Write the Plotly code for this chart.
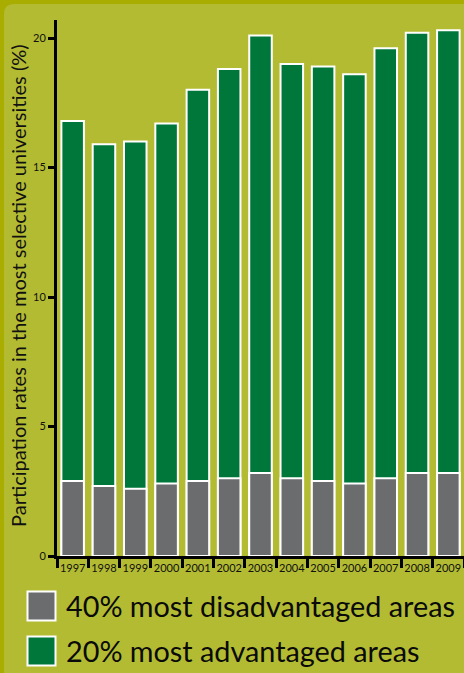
import plotly.graph_objects as go

# ---- data ----
years = ["1997", "1998", "1999", "2000", "2001", "2002", "2003",
         "2004", "2005", "2006", "2007", "2008", "2009"]
advantaged = [16.8, 15.9, 16.0, 16.7, 18.0, 18.8, 20.1,
              19.0, 18.9, 18.6, 19.6, 20.2, 20.3]
disadvantaged = [2.9, 2.7, 2.6, 2.8, 2.9, 3.0, 3.2,
                 3.0, 2.9, 2.8, 3.0, 3.2, 3.2]
series_names = ["40% most disadvantaged areas", "20% most advantaged areas"]
y_title = "Participation rates in the most selective universities (%)"
y_ticks = [0, 5, 10, 15, 20]

# ---- style ----
GREEN = "#00773a"
GREY = "#6a6c6e"
PANEL = "#b3bb33"
OUTER = "#a8ad00"
FONT = "Lato"

W, H = 464, 673
ML, MR, MT, MB = 57, 0, 20, 117
PW, PH = W - ML - MR, H - MT - MB


def px(x):
    return (x - ML) / PW


def py(y):
    return (H - MB - y) / PH


fig = go.Figure()
fig.add_bar(x=years, y=advantaged, name=series_names[1], width=0.72,
            marker=dict(color=GREEN, line=dict(color="white", width=2)))
fig.add_bar(x=years, y=disadvantaged, name=series_names[0], width=0.72,
            marker=dict(color=GREY, line=dict(color="white", width=2)))

shapes = []
# inner panel with rounded top-left corner
r = 10
x0, y0, x1, y1 = 4, 4, W + 10, H + 10
path = (f"M {px(x0)},{py(y0 + r)} Q {px(x0)},{py(y0)} {px(x0 + r)},{py(y0)} "
        f"L {px(x1)},{py(y0)} L {px(x1)},{py(y1)} L {px(x0)},{py(y1)} Z")
shapes.append(dict(type="path", path=path, xref="paper", yref="paper",
                   fillcolor=PANEL, line=dict(width=0), layer="below"))

annotations = []
legend_rows = [(series_names[0], GREY, 591.5, 620.5),
               (series_names[1], GREEN, 636.5, 665.5)]
for name, col, top, bot in legend_rows:
    shapes.append(dict(type="rect", xref="paper", yref="paper",
                       x0=px(27.5), x1=px(55.5), y0=py(bot), y1=py(top),
                       fillcolor=col, line=dict(color="white", width=2)))
    annotations.append(dict(text=name, xref="paper", yref="paper",
                            x=px(64), y=py((top + bot) / 2),
                            xanchor="left", yanchor="middle", showarrow=False,
                            font=dict(family=FONT, size=28.8, color="#0a0a0a")))

annotations.append(dict(text=y_title, xref="paper", yref="paper",
                        x=px(18), y=py(286), textangle=-90,
                        xanchor="center", yanchor="middle", showarrow=False,
                        font=dict(family=FONT, size=20, color="#111111")))

fig.update_layout(
    width=W, height=H,
    margin=dict(l=ML, r=MR, t=MT, b=MB),
    paper_bgcolor=OUTER, plot_bgcolor="rgba(0,0,0,0)",
    barmode="overlay", showlegend=False,
    shapes=shapes, annotations=annotations,
    font=dict(family=FONT, color="#111111"),
    xaxis=dict(type="category", range=[-0.5, 12.5], showgrid=False,
               zeroline=False, showline=True, linecolor="black", linewidth=3,
               ticks="outside", tickson="boundaries", ticklen=9,
               tickwidth=2.5, tickcolor="black", tickangle=0,
               tickfont=dict(family=FONT, size=11, color="#111111")),
    yaxis=dict(range=[0, PH / 25.9], tickvals=y_ticks, showgrid=False,
               zeroline=False, showline=True, linecolor="black", linewidth=3,
               ticks="outside", ticklen=6, tickwidth=2.5, tickcolor="black",
               tickfont=dict(family=FONT, size=11, color="#111111")),
)

fig.write_html(
    "out.html",
    config={"displayModeBar": False},
    post_script="document.body.style.margin='0';"
                "document.body.style.overflow='hidden';",
)
